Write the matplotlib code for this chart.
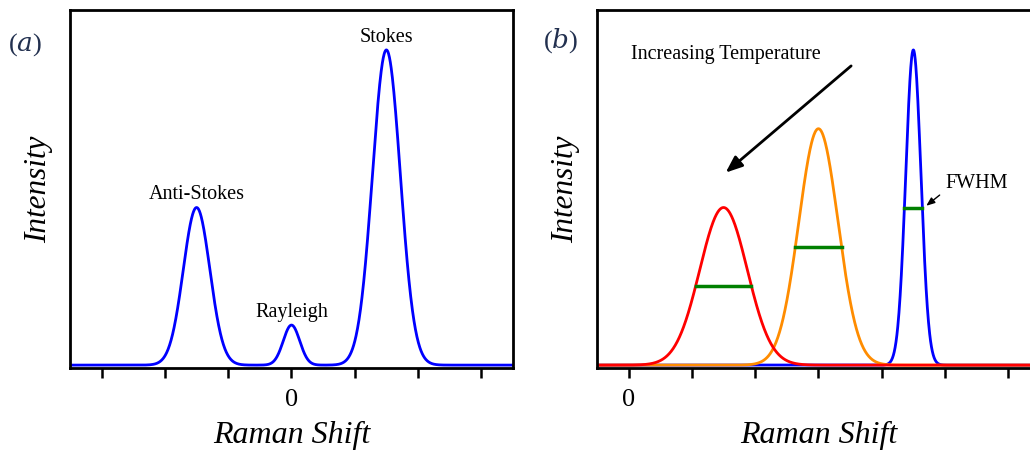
import numpy as np
import matplotlib.pyplot as plt

plt.rcParams['font.family'] = ['Liberation Serif', 'DejaVu Serif']

# panel (a): Raman spectrum, peak centre / height / width (sigma)
peaks_a = ['Anti-Stokes', 'Rayleigh', 'Stokes']
centers_a = [-1.5, 0.0, 1.5]
heights_a = [0.50, 0.127, 1.0]
sigmas_a = [0.21, 0.13, 0.22]

# panel (b): Stokes line at three temperatures (hot -> cold)
centers_b = [1.5, 3.0, 4.5]
heights_b = [0.50, 0.75, 1.0]
sigmas_b = [0.375, 0.31, 0.12]
colors_b = ['red', 'darkorange', 'blue']

ticks = np.arange(-3, 4)
ticks_b = np.arange(0, 7)


def gauss(x, c, h, s):
    return h * np.exp(-0.5 * ((x - c) / s) ** 2)


def style(ax):
    for sp in ax.spines.values():
        sp.set_linewidth(2)
    ax.set_yticks([])
    ax.tick_params(axis='x', direction='out', length=7, width=1.8, labelsize=19, pad=8)
    ax.set_ylabel('Intensity', fontsize=22.5, style='italic', labelpad=12)
    ax.set_xlabel('Raman Shift', fontsize=23, style='italic', labelpad=7)
    ax.set_ylim(-0.0095, 1.127)


fig = plt.figure(figsize=(10.3, 4.5), dpi=100)
ax1 = fig.add_axes([0.068, 0.182, 0.430, 0.796])
ax2 = fig.add_axes([0.5796, 0.182, 0.430, 0.796])

# (a)
x = np.linspace(-3.5, 3.5, 1500)
y = np.zeros_like(x)
for c, h, s in zip(centers_a, heights_a, sigmas_a):
    y += gauss(x, c, h, s)
ax1.plot(x, y, color='blue', lw=2)
for name, c, h in zip(peaks_a, centers_a, heights_a):
    ax1.text(c, h + 0.01, name, ha='center', va='bottom', fontsize=14.5)
ax1.set_xlim(-3.5, 3.5)
ax1.set_xticks(ticks)
ax1.set_xticklabels(['0' if t == 0 else '' for t in ticks])
style(ax1)
fig.text(0.008, 0.90, '($a$)', fontsize=19, color='#22304f', ha='left', va='center',
         math_fontfamily='dejavuserif')

# (b)
xb = np.linspace(-0.5, 6.5, 1500)
for c, h, s, col in zip(centers_b[::-1], heights_b[::-1], sigmas_b[::-1], colors_b[::-1]):
    ax2.plot(xb, gauss(xb, c, h, s), color=col, lw=2)
for c, h, s in zip(centers_b, heights_b, sigmas_b):
    half = 1.1774 * s
    ax2.plot([c - half, c + half], [h / 2, h / 2], color='green', lw=2.5)
ax2.set_xlim(-0.5, 6.5)
ax2.set_xticks(ticks_b)
ax2.set_xticklabels(['0' if t == 0 else '' for t in ticks_b])
style(ax2)

ax2.annotate('', xy=(1.5, 0.605), xytext=(3.55, 0.955),
             arrowprops=dict(arrowstyle='-|>,head_length=1.0,head_width=0.4',
                             color='black', lw=2))
ax2.text(1.53, 0.985, 'Increasing Temperature', ha='center', va='center', fontsize=14.5)

ax2.annotate('', xy=(4.67, 0.50), xytext=(4.95, 0.545),
             arrowprops=dict(arrowstyle='-|>,head_length=0.5,head_width=0.2',
                             color='black', lw=1))
ax2.text(5.0, 0.575, 'FWHM', ha='left', va='center', fontsize=14.5)
fig.text(0.527, 0.91, '($b$)', fontsize=19, color='#22304f', ha='left', va='center',
         math_fontfamily='dejavuserif')

fig.savefig('out.png', dpi=100)
